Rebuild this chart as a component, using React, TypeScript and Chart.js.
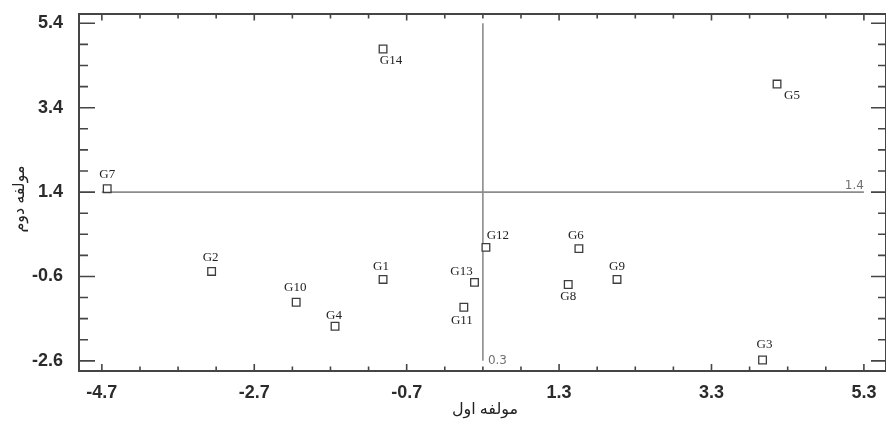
import React, { useEffect, useRef } from "react";
import { Chart, registerables } from "chart.js";

Chart.register(...registerables);

// ---- data ----
const genotypes = ["G1", "G2", "G3", "G4", "G5", "G6", "G7", "G8", "G9", "G10", "G11", "G12", "G13", "G14"];
const component1 = [-1.01, -3.26, 3.97, -1.64, 4.16, 1.56, -4.63, 1.42, 2.06, -2.15, 0.05, 0.34, 0.19, -1.01];
const component2 = [-0.67, -0.48, -2.58, -1.78, 3.96, 0.06, 1.48, -0.79, -0.67, -1.21, -1.33, 0.09, -0.74, 4.79];

// label placement offsets (px) relative to marker centre
const labelDx = [-2, -1, 2, -1, 15, -3, 0, 0, 0, -1, -2, 12, -13, 8];
const labelDy = [-13, -14, -15, -11, 12, -13, -14, 12, -13, -15, 13, -12, -11, 12];

const xMajorTicks = [-4.7, -2.7, -0.7, 1.3, 3.3, 5.3];
const yMajorTicks = [-2.6, -0.6, 1.4, 3.4, 5.4];
const minorStep = 0.5;

const crossX = 0.3;
const crossY = 1.4;
const crossXLabel = "0.3";
const crossYLabel = "1.4";

const xTitle = "مولفه اول";
const yTitle = "مولفه دوم";

const X_MIN = -5.0;
const X_MAX = 5.59;
const Y_MIN = -2.84;
const Y_MAX = 5.62;

const round1 = (v: number) => Math.round(v * 10) / 10;

function buildTicks(majors: number[]) {
  const out: number[] = [];
  const first = majors[0];
  const last = majors[majors.length - 1];
  const n = Math.round((last - first) / minorStep);
  for (let i = 0; i <= n; i++) out.push(round1(first + i * minorStep));
  return out;
}
const isMajor = (majors: number[], v: number) => majors.some((m) => Math.abs(m - v) < 1e-6);

const FRAME = "#454545";
const TICK_FONT = { family: "'Liberation Sans', Arial, sans-serif", size: 18, weight: "bold" as const };

const decorPlugin = {
  id: "decor",
  beforeDatasetsDraw(chart: any) {
    const { ctx, chartArea, scales } = chart;
    const xs = scales.x;
    const ys = scales.y;
    const { left, right, top, bottom } = chartArea;
    ctx.save();
    // crosshair lines
    ctx.strokeStyle = "#8c8c8c";
    ctx.lineWidth = 1.6;
    ctx.beginPath();
    const hy = ys.getPixelForValue(crossY);
    ctx.moveTo(xs.getPixelForValue(xMajorTicks[0]), hy);
    ctx.lineTo(xs.getPixelForValue(xMajorTicks[xMajorTicks.length - 1]), hy);
    const vx = xs.getPixelForValue(crossX);
    ctx.moveTo(vx, ys.getPixelForValue(yMajorTicks[yMajorTicks.length - 1]));
    ctx.lineTo(vx, ys.getPixelForValue(yMajorTicks[0]));
    ctx.stroke();

    // cross labels
    ctx.fillStyle = "#707070";
    ctx.font = "12px 'DejaVu Sans'";
    ctx.textBaseline = "alphabetic";
    ctx.textAlign = "right";
    ctx.fillText(crossYLabel, xs.getPixelForValue(xMajorTicks[xMajorTicks.length - 1]), hy - 3);
    ctx.textAlign = "left";
    ctx.fillText(crossXLabel, vx + 5, ys.getPixelForValue(yMajorTicks[0]) + 3);

    // frame
    ctx.strokeStyle = FRAME;
    ctx.lineWidth = 2;
    ctx.beginPath();
    ctx.moveTo(right, top);
    ctx.lineTo(left, top);
    ctx.lineTo(left, bottom);
    ctx.lineTo(right, bottom);
    ctx.lineTo(right, top);
    ctx.stroke();

    // inward ticks
    ctx.lineWidth = 1.6;
    ctx.beginPath();
    for (const t of xs.ticks) {
      const px = xs.getPixelForValue(t.value);
      const maj = isMajor(xMajorTicks, t.value);
      ctx.moveTo(px, bottom);
      ctx.lineTo(px, bottom - (maj ? 7 : 4.5));
      ctx.moveTo(px, top);
      ctx.lineTo(px, top + (maj ? 6.5 : 4.5));
    }
    for (const t of ys.ticks) {
      const py = ys.getPixelForValue(t.value);
      const maj = isMajor(yMajorTicks, t.value);
      ctx.moveTo(left, py);
      ctx.lineTo(left + (maj ? 16 : 9), py);
      ctx.moveTo(right, py);
      ctx.lineTo(right - (maj ? 15 : 8), py);
    }
    ctx.stroke();

    // axis titles
    ctx.fillStyle = "#222";
    ctx.font = "16px 'Liberation Serif', 'DejaVu Sans', serif";
    ctx.textAlign = "center";
    ctx.textBaseline = "middle";
    ctx.fillText(xTitle, 485, 410);
    ctx.translate(20, 199);
    ctx.rotate(-Math.PI / 2);
    ctx.fillText(yTitle, 0, 0);
    ctx.restore();
  },
  afterDatasetsDraw(chart: any) {
    const { ctx } = chart;
    const meta = chart.getDatasetMeta(0);
    ctx.save();
    ctx.fillStyle = "#222";
    ctx.font = "13px 'Liberation Serif', serif";
    ctx.textAlign = "center";
    ctx.textBaseline = "middle";
    meta.data.forEach((el: any, i: number) => {
      ctx.fillText(genotypes[i], el.x + labelDx[i], el.y + labelDy[i]);
    });
    ctx.restore();
  },
};

export default function App() {
  const ref = useRef<HTMLCanvasElement | null>(null);
  useEffect(() => {
    document.body.style.margin = "0";
    if (!ref.current) return;
    const chart = new Chart(ref.current, {
      type: "scatter",
      data: {
        datasets: [
          {
            data: component1.map((x, i) => ({ x, y: component2[i] })),
            pointStyle: "rect",
            pointRadius: 5.4,
            pointHoverRadius: 5.4,
            borderColor: "#3d3d3d",
            borderWidth: 1.3,
            backgroundColor: "rgba(255,255,255,1)",
            showLine: false,
          },
        ],
      },
      options: {
        responsive: false,
        animation: false,
        events: [],
        layout: { autoPadding: false, padding: { top: 14, right: 0, left: 0, bottom: 0 } },
        plugins: { legend: { display: false }, tooltip: { enabled: false }, title: { display: false } },
        scales: {
          x: {
            type: "linear",
            min: X_MIN,
            max: X_MAX,
            grid: { display: false },
            border: { display: false },
            afterBuildTicks: (s: any) => {
              s.ticks = buildTicks(xMajorTicks).map((v) => ({ value: v }));
            },
            afterFit: (s: any) => {
              s.height = 52;
              s.paddingLeft = 0;
              s.paddingRight = 0;
            },
            ticks: {
              autoSkip: false,
              maxRotation: 0,
              padding: 3,
              color: "#2b2b2b",
              font: TICK_FONT,
              callback: (v: any) => (isMajor(xMajorTicks, Number(v)) ? round1(Number(v)).toFixed(1) : ""),
            },
          },
          y: {
            type: "linear",
            min: Y_MIN,
            max: Y_MAX,
            grid: { display: false },
            border: { display: false },
            afterBuildTicks: (s: any) => {
              s.ticks = buildTicks(yMajorTicks).map((v) => ({ value: v }));
            },
            afterFit: (s: any) => {
              s.width = 79;
              s.paddingTop = 0;
              s.paddingBottom = 0;
            },
            ticks: {
              autoSkip: false,
              padding: 8,
              color: "#2b2b2b",
              font: TICK_FONT,
              callback: (v: any) => (isMajor(yMajorTicks, Number(v)) ? round1(Number(v)).toFixed(1) : ""),
            },
          },
        },
      },
      plugins: [decorPlugin],
    });
    return () => chart.destroy();
  }, []);
  return (
    <div style={{ width: 886, height: 423, background: "#fff" }}>
      <canvas ref={ref} width={886} height={423} style={{ display: "block" }} />
    </div>
  );
}
